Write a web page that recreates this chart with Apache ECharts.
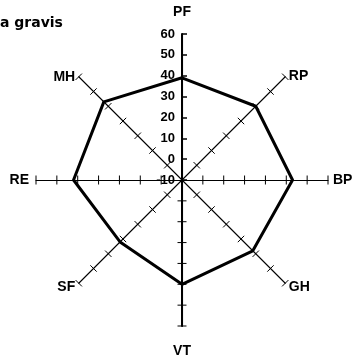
<!DOCTYPE html>
<html>
<head>
<meta charset="utf-8">
<script src="https://cdn.jsdelivr.net/npm/echarts@6/dist/echarts.min.js"></script>
<style>
html,body{margin:0;padding:0;background:#fff;}
#chart{width:357px;height:361px;}
</style>
</head>
<body>
<div id="chart"></div>
<script>
// SF-36 domains, listed counter-clockwise from the top axis
const domains = ['PF', 'MH', 'RE', 'SF', 'VT', 'GH', 'BP', 'RP'];
const scores = [39, 43, 42, 32, 40, 38, 43, 40];
const tickValues = [-10, 0, 10, 20, 30, 40, 50, 60];
const scaleMin = -10;
const scaleMax = 60;
const scaleStep = 10;

const FONT = '"Liberation Sans", Arial, sans-serif';
const C = [182, 180];
const R = 146;

// per-axis nudges for the axis names
const nameRich = {
  PF: { padding: [0, 0, 34, 0] },
  VT: { padding: [40, 0, 0, 0] },
  MH: { padding: [7, 0, 0, 0] },
  RP: { padding: [5, 0, 0, 0] },
  RE: { padding: [0, 2, 0, 0] },
  BP: { padding: [0, 0, 0, 0] },
  SF: { padding: [0, 0, 0, 0] },
  GH: { padding: [0, 0, 0, 0] }
};
Object.keys(nameRich).forEach(k => Object.assign(nameRich[k], {
  fontFamily: FONT, fontWeight: 'bold', fontSize: 14, color: '#000'
}));

// cross ticks along every spoke except PF, which carries the value scale
const crossTicks = [];
domains.forEach(d => {
  if (d === 'PF') return;
  tickValues.forEach(v => { if (v > scaleMin) crossTicks.push([v, d]); });
});

const chart = echarts.init(document.getElementById('chart'), null, { renderer: 'canvas' });
chart.setOption({
  backgroundColor: '#fff',
  animation: false,
  title: {
    text: 'a gravis', left: 0, top: 16, padding: 0,
    textStyle: { fontFamily: '"DejaVu Sans", sans-serif', fontWeight: 'bold', fontSize: 14, color: '#000' }
  },
  radar: {
    center: C,
    radius: R,
    startAngle: 90,
    splitNumber: (scaleMax - scaleMin) / scaleStep,
    shape: 'polygon',
    indicator: domains.map(d => ({ name: d, min: scaleMin, max: scaleMax })),
    axisName: {
      show: true, color: '#000', fontFamily: FONT, fontWeight: 'bold', fontSize: 14,
      verticalAlign: 'middle',
      formatter: v => '{' + v + '|' + v + '}',
      rich: nameRich
    },
    nameGap: 5,
    splitLine: { show: false },
    splitArea: { show: false },
    axisLine: { show: true, lineStyle: { color: '#000', width: 1.1 } },
    axisTick: { show: false },
    axisLabel: { show: false }
  },
  polar: { center: C, radius: R },
  angleAxis: {
    type: 'category', data: domains, startAngle: 67.5, clockwise: false,
    axisLine: { show: false }, axisTick: { show: false }, axisLabel: { show: false }, splitLine: { show: false }
  },
  radiusAxis: {
    type: 'value', min: scaleMin, max: scaleMax,
    axisLine: { show: false }, axisTick: { show: false }, axisLabel: { show: false }, splitLine: { show: false }
  },
  grid: [
    { left: C[0], top: C[1] - R, width: 1, height: R },
    { left: C[0], top: C[1], width: 1, height: R }
  ],
  xAxis: [
    { gridIndex: 0, type: 'value', show: false },
    { gridIndex: 1, type: 'value', show: false }
  ],
  yAxis: [
    {
      gridIndex: 0, type: 'value', min: scaleMin, max: scaleMax, interval: scaleStep,
      axisLine: { show: true, lineStyle: { color: '#000', width: 2 } },
      axisTick: { show: true, inside: true, length: 5, lineStyle: { color: '#000', width: 1.5 } },
      axisLabel: { show: true, margin: 7, color: '#000', fontFamily: FONT, fontWeight: 'bold', fontSize: 13 },
      splitLine: { show: false }
    },
    {
      gridIndex: 1, type: 'value', min: scaleMin, max: scaleMax, inverse: true,
      axisLine: { show: true, lineStyle: { color: '#000', width: 2 } },
      axisTick: { show: false }, axisLabel: { show: false }, splitLine: { show: false }
    }
  ],
  series: [
    {
      type: 'custom',
      coordinateSystem: 'polar',
      silent: true,
      data: crossTicks,
      renderItem: function (params, api) {
        const cat = api.value(1);
        const p = api.coord([api.value(0), cat]);
        const o = api.coord([scaleMin, cat]);
        const q = api.coord([scaleMax, cat]);
        const dx = q[0] - o[0], dy = q[1] - o[1];
        const len = Math.hypot(dx, dy) || 1;
        const nx = -dy / len, ny = dx / len;
        const h = 4.5;
        return {
          type: 'line',
          shape: { x1: p[0] - nx * h, y1: p[1] - ny * h, x2: p[0] + nx * h, y2: p[1] + ny * h },
          style: { stroke: '#000', lineWidth: 1 }
        };
      }
    },
    {
      type: 'radar',
      symbol: 'none',
      lineStyle: { color: '#000', width: 3 },
      data: [{ value: scores, name: 'Myasthenia gravis' }]
    }
  ]
});
</script>
</body>
</html>
